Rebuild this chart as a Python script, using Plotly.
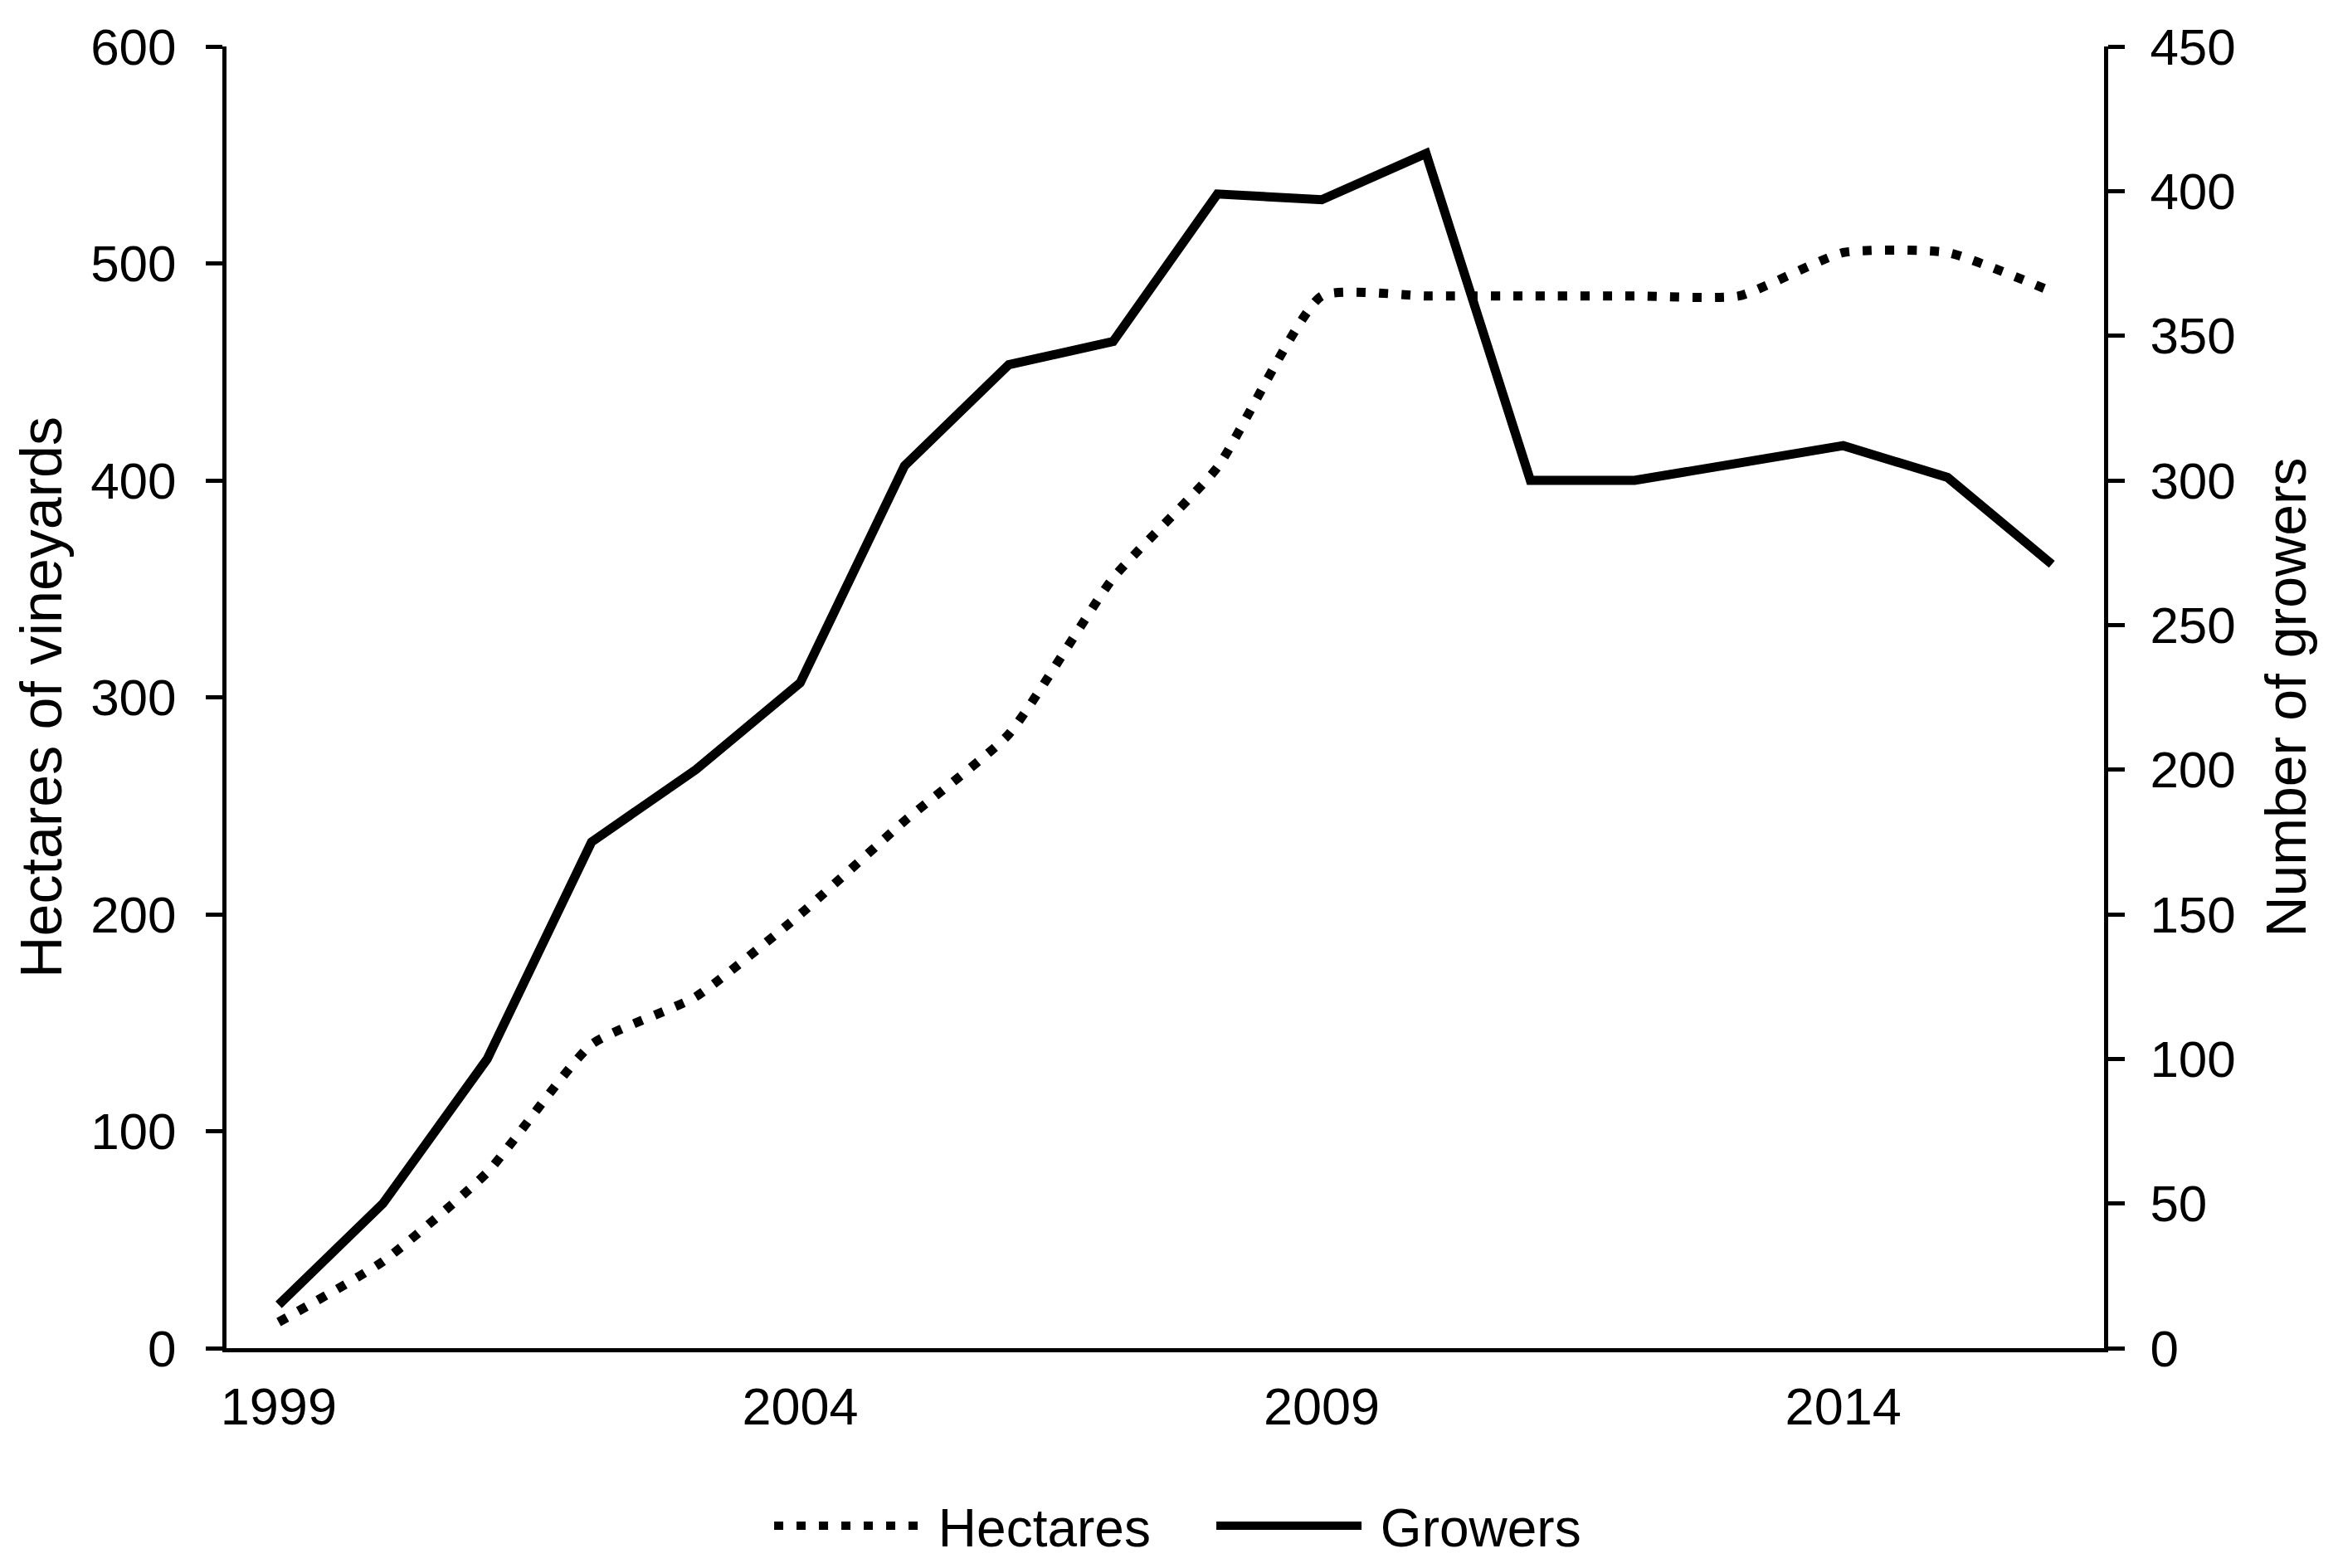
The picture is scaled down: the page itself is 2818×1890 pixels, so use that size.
import plotly.graph_objects as go

years = list(range(1999, 2017))
hectares = [12, 40, 81, 140, 162, 200, 243, 283, 355, 406, 485, 485, 485, 485, 485, 505, 505, 487]
growers = [15, 50, 100, 175, 200, 230, 305, 340, 348, 399, 397, 413, 300, 300, 306, 312, 301, 271]
x_tick_years = [1999, 2004, 2009, 2014]
left_ticks = [0, 100, 200, 300, 400, 500, 600]
right_ticks = [0, 50, 100, 150, 200, 250, 300, 350, 400, 450]

FONT = "Liberation Sans, Arial, sans-serif"
GAP = "\u00a0"

fig = go.Figure()
fig.add_trace(go.Scatter(
    x=years, y=hectares, name=GAP + "Hectares", mode="lines",
    line=dict(color="black", width=11, dash="11px,16px", shape="spline", smoothing=0.5),
    yaxis="y",
))
fig.add_trace(go.Scatter(
    x=years, y=growers, name=GAP + "Growers", mode="lines",
    line=dict(color="black", width=11),
    yaxis="y2",
))

# page body has an 8px margin: figure drawn at (8, 8)
fig.update_layout(
    width=2802, height=1874,
    margin=dict(l=265, r=274, t=48, b=257, autoexpand=False),
    paper_bgcolor="white", plot_bgcolor="white",
    font=dict(family=FONT, size=62, color="black"),
    showlegend=True,
    legend=dict(
        orientation="h", x=0.525, xanchor="center", y=-0.1366, yanchor="middle",
        itemwidth=175, entrywidth=343, font=dict(size=64), bgcolor="rgba(0,0,0,0)",
    ),
    xaxis=dict(
        range=[1998.5, 2016.5], tickvals=x_tick_years, ticktext=[str(v) for v in x_tick_years],
        showgrid=False, zeroline=False, showline=True, linecolor="black", linewidth=5,
        ticks="", ticklabelstandoff=11, tickfont=dict(size=63), automargin=False,
    ),
    yaxis=dict(
        range=[0, 600], tickvals=left_ticks, showgrid=False, zeroline=False,
        showline=True, linecolor="black", linewidth=5,
        ticks="outside", ticklen=20, tickwidth=5, tickcolor="black",
        ticklabelstandoff=23, tickfont=dict(size=62), automargin=False,
        title=dict(text="Hectares of vineyards", font=dict(size=70), standoff=13),
    ),
    yaxis2=dict(
        range=[0, 450], tickvals=right_ticks, overlaying="y", side="right",
        showgrid=False, zeroline=False,
        showline=True, linecolor="black", linewidth=5,
        ticks="outside", ticklen=20, tickwidth=5, tickcolor="black",
        ticklabelstandoff=18, tickfont=dict(size=62), automargin=False,
        title=dict(text="Number of growers", font=dict(size=68), standoff=39),
    ),
)

fig.write_html("out.html")
